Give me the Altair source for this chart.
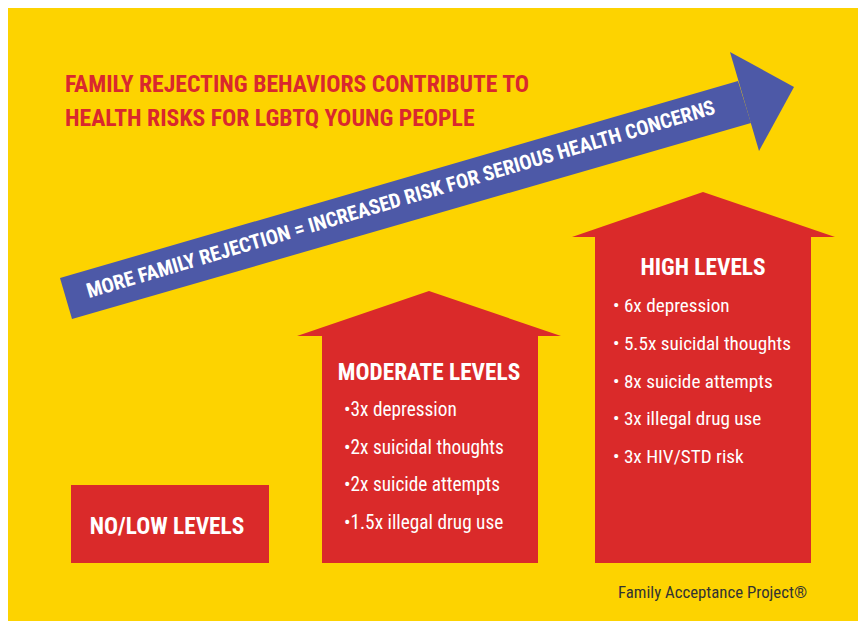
import altair as alt
import pandas as pd

# ---------------- content ----------------
title_lines = ["FAMILY REJECTING BEHAVIORS CONTRIBUTE TO",
               "HEALTH RISKS FOR LGBTQ YOUNG PEOPLE"]
arrow_text = "MORE FAMILY REJECTION = INCREASED RISK FOR SERIOUS HEALTH CONCERNS"
level_names = ["NO/LOW LEVELS", "MODERATE LEVELS", "HIGH LEVELS"]
moderate_items = ["•3x depression", "•2x suicidal thoughts",
                  "•2x suicide attempts", "•1.5x illegal drug use"]
high_items = ["• 6x depression", "• 5.5x suicidal thoughts",
              "• 8x suicide attempts", "• 3x illegal drug use",
              "• 3x HIV/STD risk"]
footer_text = "Family Acceptance Project®"

# ---------------- styles ----------------
YELLOW = "#FDD300"
RED = "#DA2A2A"
TITLE_RED = "#D9282E"
BLUE = "#4D59A7"
WHITE = "#FFFFFF"
DARK = "#333333"
BOLD_FONT = "Roboto Condensed, Roboto, sans-serif"
BODY_FONT = "Roboto Condensed, Roboto, sans-serif"

# ---------------- layout (page pixel coordinates) ----------------
title_pos = {"x": 65, "y": [92, 126], "size": 23.7}
level_pos = {"x": [167, 429, 703], "y": [534, 380, 275], "size": 23.3}
moderate_pos = {"x": 344, "y0": 416, "step": 37.5, "size": 19.3}
high_pos = {"x": 613, "y0": 312, "step": 37.8, "size": 19.2}
footer_pos = {"x": 618, "y": 598, "size": 16.8}
arrow_text_pos = {"x": 401, "y": 200, "angle": 343.6, "size": 20.4}

boxes = {"x": [71, 322, 595], "x2": [269, 538, 811],
         "y": [485, 336, 237], "y2": [563, 563, 563]}
roofs = [[(297, 336), (429, 291), (561, 336)],
         [(572, 237), (703, 192), (835, 237)]]
arrow_shaft = [(60, 278), (738, 81), (751, 123), (72, 319)]
arrow_head = [(730, 52), (794, 87), (759, 151)]

xs = alt.Scale(domain=[8, 858], nice=False, zero=False)
ys = alt.Scale(domain=[8, 621], reverse=True, nice=False, zero=False)


def X(f):
    return alt.X(f, type="quantitative", scale=xs, axis=None)


def Y(f):
    return alt.Y(f, type="quantitative", scale=ys, axis=None)


def vertical_extent(vertices):
    """Top/bottom boundary of a convex polygon at each vertex x."""
    n = len(vertices)
    rows = []
    for x in sorted(set(v[0] for v in vertices)):
        hits = []
        for i in range(n):
            (x1, y1), (x2, y2) = vertices[i], vertices[(i + 1) % n]
            if min(x1, x2) <= x <= max(x1, x2):
                if x1 == x2:
                    hits += [y1, y2]
                else:
                    hits.append(y1 + (y2 - y1) * (x - x1) / (x2 - x1))
        rows.append({"x": x, "top": min(hits), "bottom": max(hits)})
    return pd.DataFrame(rows)


def polygon(vertices, color):
    return alt.Chart(vertical_extent(vertices)).mark_area(
        color=color, interpolate="linear", strokeWidth=0
    ).encode(x=X("x"), y=alt.Y("top", type="quantitative", scale=ys, axis=None, stack=None),
             y2="bottom")


layers = []

# arrow
layers.append(polygon(arrow_shaft, BLUE))
layers.append(polygon(arrow_head, BLUE))
layers.append(
    alt.Chart(pd.DataFrame({"t": [arrow_text], "x": [arrow_text_pos["x"]],
                            "y": [arrow_text_pos["y"]]}))
    .mark_text(color=WHITE, font=BOLD_FONT, fontWeight="bold",
               fontSize=arrow_text_pos["size"], angle=arrow_text_pos["angle"],
               align="center", baseline="middle")
    .encode(x=X("x"), y=Y("y"), text="t:N")
)

# boxes and roofs
layers.append(
    alt.Chart(pd.DataFrame(boxes)).mark_rect(color=RED, strokeWidth=0)
    .encode(x=X("x"), x2="x2", y=Y("y"), y2="y2")
)
for r in roofs:
    layers.append(polygon(r, RED))

# title
layers.append(
    alt.Chart(pd.DataFrame({"t": title_lines, "x": [title_pos["x"]] * 2,
                            "y": title_pos["y"]}))
    .mark_text(color=TITLE_RED, font=BOLD_FONT, fontWeight="bold",
               fontSize=title_pos["size"], align="left", baseline="alphabetic")
    .encode(x=X("x"), y=Y("y"), text="t:N")
)

# level names
layers.append(
    alt.Chart(pd.DataFrame({"t": level_names, "x": level_pos["x"],
                            "y": level_pos["y"]}))
    .mark_text(color=WHITE, font=BOLD_FONT, fontWeight="bold",
               fontSize=level_pos["size"], align="center", baseline="alphabetic")
    .encode(x=X("x"), y=Y("y"), text="t:N")
)

# bullet items
for items, pos in [(moderate_items, moderate_pos), (high_items, high_pos)]:
    df = pd.DataFrame({"t": items,
                       "x": [pos["x"]] * len(items),
                       "y": [pos["y0"] + i * pos["step"] for i in range(len(items))]})
    layers.append(
        alt.Chart(df).mark_text(color=WHITE, font=BODY_FONT,
                                fontSize=pos["size"], align="left",
                                baseline="alphabetic")
        .encode(x=X("x"), y=Y("y"), text="t:N")
    )

# footer
layers.append(
    alt.Chart(pd.DataFrame({"t": [footer_text], "x": [footer_pos["x"]],
                            "y": [footer_pos["y"]]}))
    .mark_text(color=DARK, font=BODY_FONT, fontSize=footer_pos["size"],
               align="left", baseline="alphabetic")
    .encode(x=X("x"), y=Y("y"), text="t:N")
)

chart = alt.layer(*layers).properties(
    width=850, height=613, background=YELLOW, padding=0
).configure_view(stroke=None)

chart.save("out.html", embed_options={"renderer": "svg", "actions": False})
